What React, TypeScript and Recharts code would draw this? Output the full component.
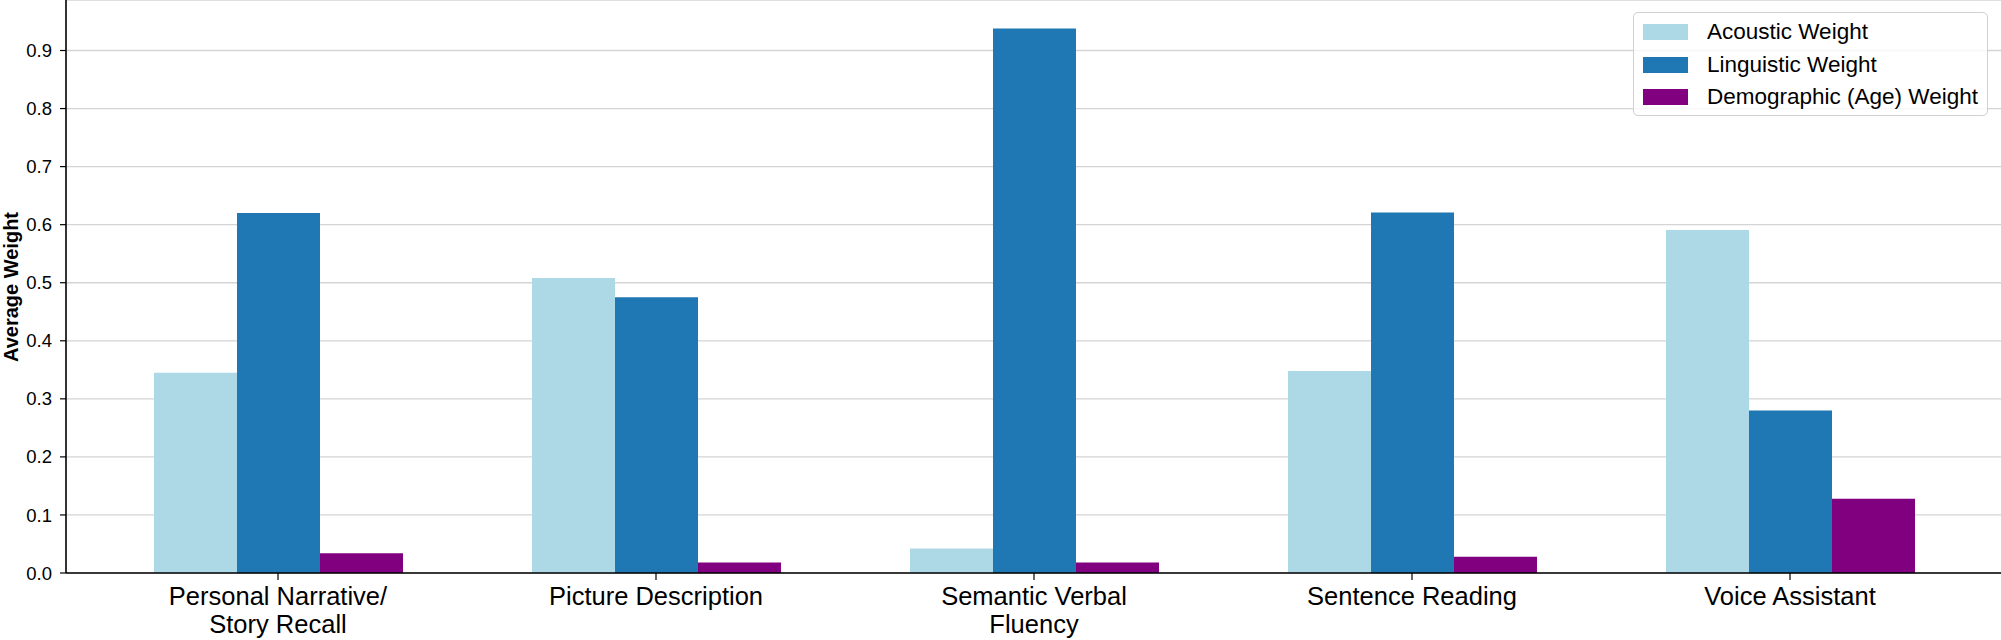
import React from "react";
import {
  BarChart,
  Bar,
  XAxis,
  YAxis,
  CartesianGrid,
  Legend,
} from "recharts";

const categories = [
  "Personal Narrative/\nStory Recall",
  "Picture Description",
  "Semantic Verbal\nFluency",
  "Sentence Reading",
  "Voice Assistant",
];

const acousticWeight = [0.345, 0.508, 0.042, 0.348, 0.591];
const linguisticWeight = [0.62, 0.475, 0.938, 0.621, 0.28];
const demographicWeight = [0.034, 0.018, 0.018, 0.028, 0.128];

const yTicks = [0, 0.1, 0.2, 0.3, 0.4, 0.5, 0.6, 0.7, 0.8, 0.9];

const series = [
  { key: "acoustic", name: "Acoustic Weight", color: "#add8e6" },
  { key: "linguistic", name: "Linguistic Weight", color: "#1f77b4" },
  { key: "demographic", name: "Demographic (Age) Weight", color: "#800080" },
];

const data = categories.map((c, i) => ({
  name: c,
  acoustic: acousticWeight[i],
  linguistic: linguisticWeight[i],
  demographic: demographicWeight[i],
}));

const FONT = "'Liberation Sans', Arial, Helvetica, sans-serif";

function CategoryTick({ x, y, payload }: any) {
  const lines = String(payload.value).split("\n");
  return (
    <text
      x={x}
      y={y}
      textAnchor="middle"
      fontFamily={FONT}
      fontSize={25.5}
      fill="#000"
    >
      {lines.map((l, i) => (
        <tspan key={i} x={x} dy={i === 0 ? 23 : 28}>
          {l}
        </tspan>
      ))}
    </text>
  );
}

function LegendBox() {
  return (
    <div
      style={{
        width: 355,
        height: 104,
        boxSizing: "border-box",
        border: "1.5px solid #d0d0d0",
        borderRadius: 5,
        background: "rgba(255,255,255,0.8)",
        fontFamily: FONT,
        fontSize: 22.5,
        color: "#000",
        paddingTop: 3,
      }}
    >
      {series.map((s) => (
        <div
          key={s.key}
          style={{ display: "flex", alignItems: "center", height: 32.6 }}
        >
          <div
            style={{
              width: 45,
              height: 16,
              background: s.color,
              marginLeft: 9,
              marginRight: 19,
              flexShrink: 0,
            }}
          />
          <span style={{ whiteSpace: "nowrap" }}>{s.name}</span>
        </div>
      ))}
    </div>
  );
}

export default function App() {
  return (
    <div style={{ position: "absolute", left: 0, top: 0, background: "#fff" }}>
      <BarChart
        width={2001}
        height={640}
        data={data}
        margin={{ top: 0, right: 0, bottom: 0, left: 0 }}
        barGap={0}
        barSize={83}
      >
        <CartesianGrid
          horizontal={true}
          vertical={false}
          stroke="#d4d4d4"
          strokeWidth={1.3}
        />
        <XAxis
          dataKey="name"
          height={67}
          padding={{ left: 23, right: 22 }}
          interval={0}
          tick={<CategoryTick />}
          tickSize={7}
          tickMargin={2}
          axisLine={{ stroke: "#000", strokeWidth: 1.6 }}
          tickLine={{ stroke: "#000", strokeWidth: 1.2 }}
        />
        <YAxis
          width={66}
          domain={[0, 0.987]}
          ticks={yTicks}
          tickFormatter={(v: number) => v.toFixed(1)}
          tickSize={6}
          tickMargin={8}
          axisLine={{ stroke: "#000", strokeWidth: 1.6 }}
          tickLine={{ stroke: "#000", strokeWidth: 1.2 }}
          tick={{ fontFamily: FONT, fontSize: 18.5, fill: "#000" }}
          label={{
            content: () => (
              <text
                transform="translate(18,287) rotate(-90)"
                textAnchor="middle"
                fontFamily={FONT}
                fontSize={20}
                fontWeight="bold"
                fill="#000"
              >
                Average Weight
              </text>
            ),
          }}
        />
        <Legend
          layout="vertical"
          align="center"
          verticalAlign="middle"
          content={() => <LegendBox />}
          wrapperStyle={{ position: "absolute", left: 1633, top: 12, width: 355 }}
        />
        {series.map((s) => (
          <Bar
            key={s.key}
            dataKey={s.key}
            name={s.name}
            fill={s.color}
            isAnimationActive={false}
          />
        ))}
      </BarChart>
    </div>
  );
}
